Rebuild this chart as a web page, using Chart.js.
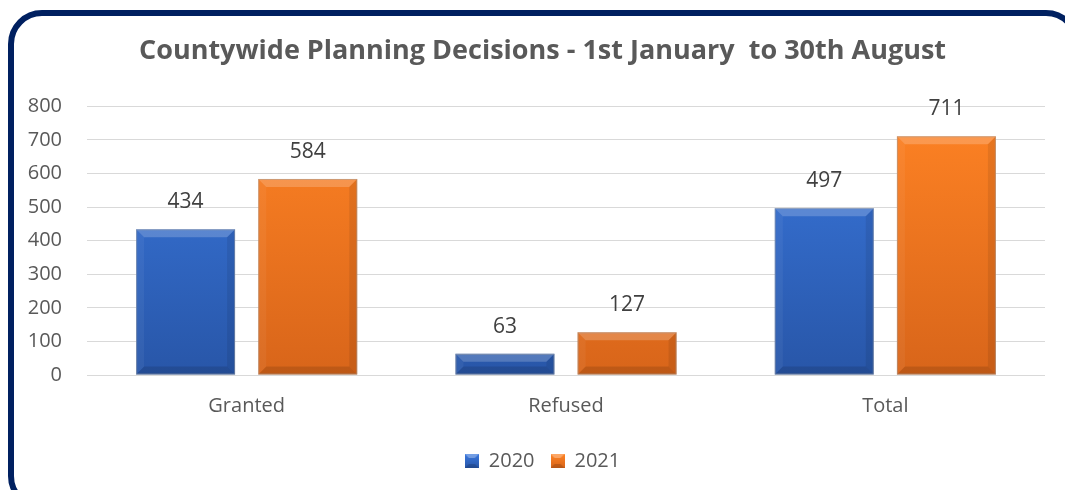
<!DOCTYPE html>
<html>
<head>
<meta charset="utf-8">
<script src="https://cdn.jsdelivr.net/npm/chart.js@4.4.0/dist/chart.umd.min.js"></script>
<style>
  html, body { margin: 0; padding: 0; background: #fff; overflow: hidden; }
  #wrap { position: absolute; left: 0; top: 0; width: 1065px; height: 490px; }
  #frame {
    position: absolute; left: 8px; top: 10px; width: 1072px; height: 500px;
    border: 6px solid #002060; border-radius: 34px; box-sizing: border-box;
    pointer-events: none;
  }
</style>
</head>
<body>
<div id="wrap">
  <canvas id="planningChart" width="1065" height="490"></canvas>
  <div id="frame"></div>
</div>
<script>
// data
const categories = ['Granted', 'Refused', 'Total'];
const series2020 = [434, 63, 497];
const series2021 = [584, 127, 711];
const seriesNames = ['2020', '2021'];

const palette = {
    '2020': { top: '#3a78de', bottom: '#2856a8' },
    '2021': { top: '#ff8324', bottom: '#d8651a' }
};

function barGradient(context, name) {
    const chart = context.chart;
    const area = chart.chartArea;
    if (!area) return palette[name].top;
    const g = chart.ctx.createLinearGradient(0, area.top, 0, area.bottom);
    g.addColorStop(0, palette[name].top);
    g.addColorStop(1, palette[name].bottom);
    return g;
}

function legendIcon(name) {
    const c = document.createElement('canvas');
    c.width = 14; c.height = 14;
    const x = c.getContext('2d');
    const g = x.createLinearGradient(0, 0, 0, 14);
    g.addColorStop(0, palette[name].top);
    g.addColorStop(1, palette[name].bottom);
    x.fillStyle = g;
    x.fillRect(0, 0, 14, 14);
    x.fillStyle = 'rgba(255,255,255,0.3)';
    x.beginPath(); x.moveTo(0, 0); x.lineTo(14, 0); x.lineTo(10, 4); x.lineTo(4, 4); x.fill();
    x.fillStyle = 'rgba(0,0,0,0.15)';
    x.beginPath(); x.moveTo(0, 14); x.lineTo(14, 14); x.lineTo(10, 10); x.lineTo(4, 10); x.fill();
    return c;
}

// bevel + value labels
const bevelPlugin = {
    id: 'bevel',
    afterDatasetsDraw(chart) {
        const ctx = chart.ctx;
        chart.data.datasets.forEach((ds, i) => {
            const meta = chart.getDatasetMeta(i);
            meta.data.forEach((bar, j) => {
                const l = bar.x - bar.width / 2, r = bar.x + bar.width / 2;
                const t = bar.y, b = bar.base;
                const s = Math.min(8, (b - t) / 2);
                ctx.save();
                ctx.fillStyle = 'rgba(255,255,255,0.2)';
                ctx.beginPath(); ctx.moveTo(l, t); ctx.lineTo(r, t); ctx.lineTo(r - s, t + s); ctx.lineTo(l + s, t + s); ctx.fill();
                ctx.fillStyle = 'rgba(255,255,255,0.05)';
                ctx.beginPath(); ctx.moveTo(l, t); ctx.lineTo(l + s, t + s); ctx.lineTo(l + s, b - s); ctx.lineTo(l, b); ctx.fill();
                ctx.fillStyle = 'rgba(0,0,0,0.08)';
                ctx.beginPath(); ctx.moveTo(r, t); ctx.lineTo(r - s, t + s); ctx.lineTo(r - s, b - s); ctx.lineTo(r, b); ctx.fill();
                ctx.fillStyle = 'rgba(0,0,0,0.12)';
                ctx.beginPath(); ctx.moveTo(l, b); ctx.lineTo(r, b); ctx.lineTo(r - s, b - s); ctx.lineTo(l + s, b - s); ctx.fill();
                ctx.strokeStyle = 'rgba(160,160,160,0.5)';
                ctx.lineWidth = 1;
                ctx.strokeRect(l + 0.5, t + 0.5, r - l - 1, b - t - 1);

                ctx.fillStyle = '#404040';
                ctx.font = '21px "Open Sans", sans-serif';
                ctx.textAlign = 'center';
                ctx.textBaseline = 'middle';
                ctx.fillText(ds.data[j], bar.x, t - 27);
                ctx.restore();
            });
        });
    }
};

const ctx = document.getElementById('planningChart').getContext('2d');
const planningChart = new Chart(ctx, {
    type: 'bar',
    data: {
        labels: categories,
        datasets: [{
            label: seriesNames[0],
            data: series2020,
            backgroundColor: c => barGradient(c, '2020'),
            pointStyle: legendIcon('2020'),
            borderWidth: 0
        }, {
            label: seriesNames[1],
            data: series2021,
            backgroundColor: c => barGradient(c, '2021'),
            pointStyle: legendIcon('2021'),
            borderWidth: 0
        }]
    },
    options: {
        responsive: false,
        animation: false,
        layout: { padding: { left: 20, right: 0, top: 0, bottom: 9 } },
        datasets: { bar: { categoryPercentage: 0.765, barPercentage: 0.81 } },
        scales: {
            x: {
                afterFit(scale) { scale.height += 6; },
                grid: { display: false },
                border: { display: false },
                ticks: { color: '#595959', font: { family: '"Open Sans", sans-serif', size: 20 }, padding: 11 }
            },
            y: {
                min: 0,
                max: 800,
                afterFit(scale) { scale.width = 67; },
                grid: { color: '#d9d9d9', drawTicks: false },
                border: { display: false },
                ticks: { stepSize: 100, color: '#595959', font: { family: '"Open Sans", sans-serif', size: 20 }, padding: 25 }
            },
            yRight: {
                position: 'right',
                min: 0,
                max: 800,
                afterFit(scale) { scale.width = 20; },
                grid: { display: false },
                border: { display: false },
                ticks: { display: false }
            }
        },
        plugins: {
            title: {
                display: true,
                text: 'Countywide Planning Decisions - 1st January  to 30th August',
                color: '#595959',
                font: { family: '"Open Sans", sans-serif', size: 27, weight: 'bold' },
                padding: { top: 35, bottom: 39 }
            },
            legend: {
                position: 'bottom',
                labels: {
                    usePointStyle: true,
                    pointStyleWidth: 14,
                    color: '#595959',
                    font: { family: '"Open Sans", sans-serif', size: 20 },
                    padding: 16
                }
            },
            tooltip: { enabled: false }
        }
    },
    plugins: [bevelPlugin]
});
</script>
</body>
</html>
